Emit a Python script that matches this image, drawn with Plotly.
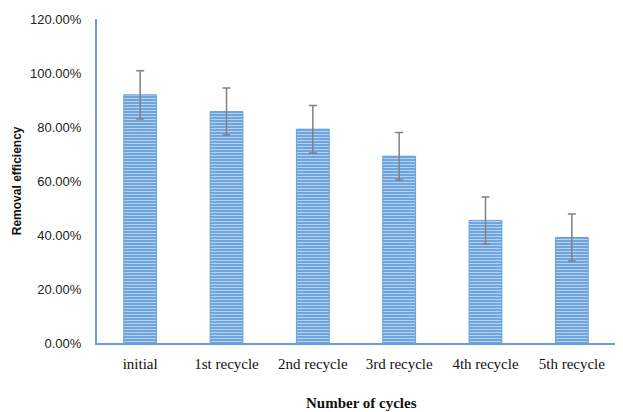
import plotly.graph_objects as go

categories = ["initial", "1st recycle", "2nd recycle", "3rd recycle", "4th recycle", "5th recycle"]
efficiency = [0.919, 0.857, 0.792, 0.692, 0.454, 0.391]
errors = [0.089, 0.087, 0.088, 0.088, 0.087, 0.087]
y_ticks = [0, 0.2, 0.4, 0.6, 0.8, 1.0, 1.2]

fig = go.Figure()
fig.add_trace(go.Bar(
    x=categories, y=efficiency,
    marker=dict(color="#7AAEE3",
                line=dict(color="#6A9FD8", width=1),
                pattern=dict(shape="-", fgcolor="#FFFFFF", bgcolor="#6FA5DE", size=3, solidity=0.35)),
    error_y=dict(type="data", array=errors, color="#808080", thickness=1.5, width=4),
))
fig.update_layout(
    width=623, height=412,
    margin=dict(l=97, r=8, t=19, b=69),
    plot_bgcolor="white", paper_bgcolor="white",
    bargap=0.62, showlegend=False,
    xaxis=dict(showline=True, linecolor="#6A9FD8", linewidth=2, ticks="", automargin=False,
               ticklabelstandoff=6,
               tickfont=dict(family="Liberation Serif", size=15, color="#111")),
    yaxis=dict(range=[0, 1.2], tickvals=y_ticks, tickformat=".2%", showgrid=False, zeroline=False,
               showline=True, linecolor="#6A9FD8", linewidth=2, ticks="", ticklabelstandoff=11,
               automargin=False,
               tickfont=dict(family="Liberation Sans", size=13, color="#222")),
    annotations=[
        dict(text="<b>Number of cycles</b>", xref="paper", yref="paper", x=0.51, y=-0.185,
             xanchor="center", yanchor="middle", showarrow=False,
             font=dict(family="Liberation Serif", size=15, color="#111")),
        dict(text="<b>Removal efficiency</b>", xref="paper", yref="paper", x=-0.154, y=0.5,
             xanchor="center", yanchor="middle", showarrow=False, textangle=-90,
             font=dict(family="Liberation Sans", size=12, color="#111")),
    ],
)
fig.write_html("out.html", config={"displayModeBar": False},
               post_script="document.body.style.margin='0';document.body.style.overflow='hidden';")
